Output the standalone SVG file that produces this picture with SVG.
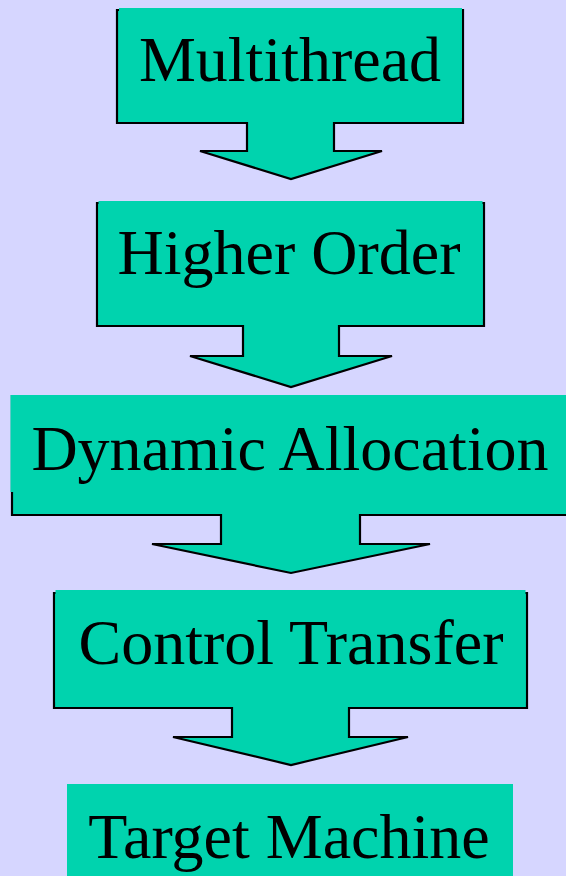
<svg xmlns="http://www.w3.org/2000/svg" width="566" height="876" viewBox="0 0 566 876">
  <style>
    .shape { fill: #00D3AE; stroke: #000; stroke-width: 2.2; stroke-linejoin: miter; }
    .cover { fill: #00D3AE; stroke: none; }
    .label { font-family: "Liberation Serif", "Times New Roman", serif; font-size: 64px; fill: #000; text-anchor: middle; }
  </style>
  <rect x="0" y="0" width="566" height="876" fill="#D6D6FF"/>
  <g id="connectors"></g>
  <g id="node-multithread">
    <path class="shape" d="M117,10 H463 V123 H334 V151 H382 L291,179 L200,151 H247 V123 H117 Z"/>
    <rect class="cover" x="119" y="8" width="343" height="110"/>
    <text class="label" x="290" y="81">Multithread</text>
  </g>
  <g id="node-higher-order">
    <path class="shape" d="M97,203 H484 V326 H339 V356 H392 L291,387 L190,356 H243 V326 H97 Z"/>
    <rect class="cover" x="98.5" y="201" width="384" height="118"/>
    <text class="label" x="289" y="274">Higher Order</text>
  </g>
  <g id="node-dynamic-allocation">
    <path class="shape" d="M12,396 H568 V515 H360 V544 H430 L291,573 L152,544 H221 V515 H12 Z"/>
    <rect class="cover" x="10.5" y="395" width="556" height="97"/>
    <text class="label" x="290" y="470">Dynamic Allocation</text>
  </g>
  <g id="node-control-transfer">
    <path class="shape" d="M54,593 H527 V708 H349 V737 H408 L291,765 L173,737 H232 V708 H54 Z"/>
    <rect class="cover" x="55.5" y="590" width="470" height="112"/>
    <text class="label" x="291" y="664">Control Transfer</text>
  </g>
  <g id="node-target-machine">
    <rect class="cover" x="67" y="784" width="446" height="100"/>
    <text class="label" x="289" y="858">Target Machine</text>
  </g>
</svg>
